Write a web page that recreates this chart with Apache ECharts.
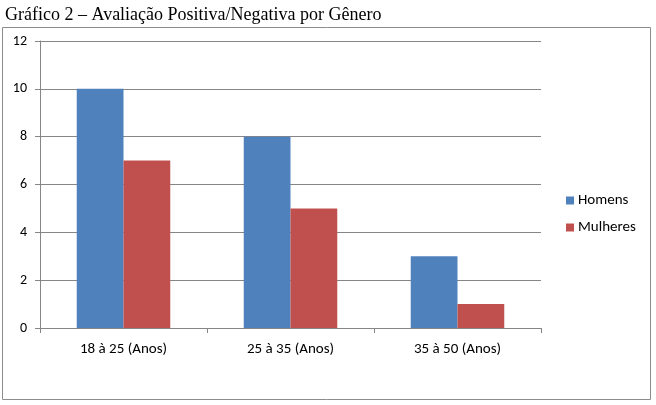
<!DOCTYPE html>
<html><head><meta charset="utf-8">
<script src="https://cdn.jsdelivr.net/npm/echarts@6/dist/echarts.min.js"></script>
<style>html,body{margin:0;padding:0;background:#fff}#c{width:656px;height:405px}</style>
</head><body><div id="c"></div>
<script>
const categories = ['18 à 25 (Anos)', '25 à 35 (Anos)', '35 à 50 (Anos)'];
const homens = [10, 8, 3];
const mulheres = [7, 5, 1];
const titleText = 'Gráfico 2 – Avaliação Positiva/Negativa por Gênero';

const chart = echarts.init(document.getElementById('c'), null, {renderer: 'canvas'});
const font = 'Carlito, "Open Sans", "Liberation Sans", sans-serif';
chart.setOption({
  animation: false,
  title: {text: titleText, left: 0, top: 1, textStyle: {fontFamily: '"Liberation Serif", serif', fontWeight: 'normal', fontSize: 18, color: '#000'}},
  graphic: [{type: 'rect', shape: {x: 2.5, y: 27.5, width: 648, height: 372}, style: {fill: 'none', stroke: '#8c8c8c', lineWidth: 1}, z: -1}],
  grid: {left: 40, right: 115, top: 41, bottom: 77},
  legend: {
    orient: 'vertical', left: 561, top: 188, itemGap: 12, itemWidth: 8, itemHeight: 8, icon: 'rect',
    textStyle: {fontFamily: font, fontSize: 15, color: '#000', padding: [0, 0, 0, -1]},
    data: ['Homens', 'Mulheres']
  },
  xAxis: {
    type: 'category', data: categories,
    axisLine: {lineStyle: {color: '#868686'}},
    axisTick: {show: true, length: 5, lineStyle: {color: '#868686'}},
    axisLabel: {fontFamily: font, fontSize: 15, color: '#000', margin: 14}
  },
  yAxis: {
    type: 'value', min: 0, max: 12, interval: 2,
    axisLine: {show: true, lineStyle: {color: '#868686'}},
    axisTick: {show: true, length: 5, lineStyle: {color: '#868686'}},
    splitLine: {lineStyle: {color: '#868686'}},
    axisLabel: {fontFamily: font, fontSize: 14, color: '#000', margin: 13}
  },
  series: [
    {name: 'Homens', type: 'bar', data: homens, barGap: '0%', barCategoryGap: '44%', itemStyle: {color: '#4F81BD'}},
    {name: 'Mulheres', type: 'bar', data: mulheres, barGap: '0%', barCategoryGap: '44%', itemStyle: {color: '#C0504D'}}
  ]
});
</script></body></html>
